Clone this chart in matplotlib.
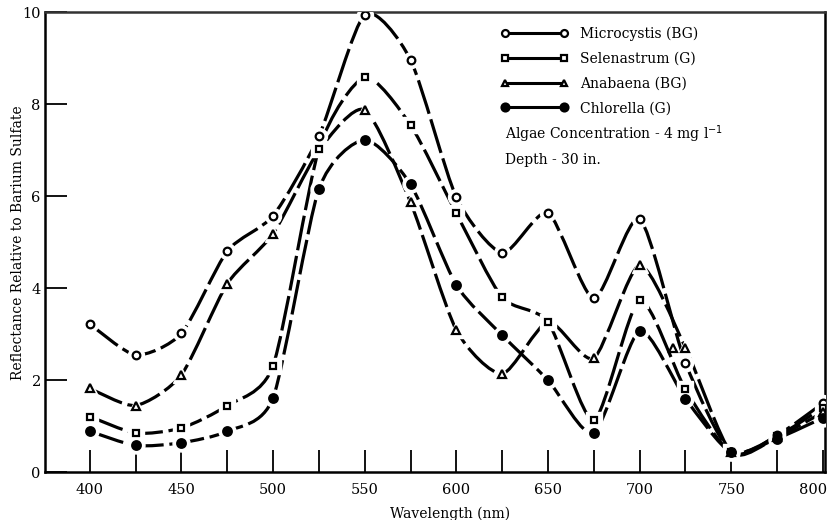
import matplotlib
matplotlib.use("Agg")
import matplotlib.pyplot as plt
import matplotlib.transforms as mtransforms
from matplotlib.path import Path
from matplotlib.patches import PathPatch
from matplotlib.lines import Line2D

plt.rcParams['font.family'] = ['DejaVu Serif']

wl = [400, 425, 450, 475, 500, 525, 550, 575, 600, 625, 650, 675, 700, 725, 750, 775, 800]

microcystis = [3.22, 2.55, 3.02, 4.81, 5.58, 7.31, 9.95, 8.97, 5.98, 4.77, 5.64, 3.78, 5.51, 2.38, 0.43, 0.80, 1.50]
selenastrum = [1.21, 0.85, 0.96, 1.45, 2.32, 7.03, 8.59, 7.55, 5.63, 3.80, 3.27, 1.13, 3.74, 1.80, 0.43, 0.78, 1.40]
anabaena = [1.82, 1.45, 2.12, 4.10, 5.19, 7.00, 7.88, 5.87, 3.09, 2.14, 3.27, 2.48, 4.50, 2.71, 0.43, 0.76, 1.30]
chlorella = [0.89, 0.58, 0.64, 0.89, 1.62, 6.16, 7.23, 6.26, 4.07, 2.98, 2.00, 0.85, 3.07, 1.60, 0.43, 0.73, 1.18]

# stray triangle drawn next to the 725 nm point
extra_tri_x = [718]
extra_tri_y = [2.71]

# points hidden under other markers in the original
hidden = {'Anabaena (BG)': [525, 650]}

series = [
    ('Microcystis (BG)', microcystis, 'o', 'white', 5.5),
    ('Selenastrum (G)', selenastrum, 's', 'white', 5),
    ('Anabaena (BG)', anabaena, '^', 'white', 5.5),
    ('Chlorella (G)', chlorella, 'o', 'black', 6.2),
]


def smooth_path(x, y, t=0.7):
    verts = [(x[0], y[0])]
    codes = [Path.MOVETO]
    n = len(x)
    for i in range(n - 1):
        x0, y0 = (x[i - 1], y[i - 1]) if i > 0 else (x[i], y[i])
        x3, y3 = (x[i + 2], y[i + 2]) if i + 2 < n else (x[i + 1], y[i + 1])
        c1 = (x[i] + (x[i + 1] - x0) / 6 * t, y[i] + (y[i + 1] - y0) / 6 * t)
        c2 = (x[i + 1] - (x3 - x[i]) / 6 * t, y[i + 1] - (y3 - y[i]) / 6 * t)
        verts += [c1, c2, (x[i + 1], y[i + 1])]
        codes += [Path.CURVE4] * 3
    return Path(verts, codes)


fig = plt.figure(figsize=(8.33, 5.2), dpi=100)
ax = fig.add_axes([0.054, 0.092, 0.936, 0.884])

for name, vals, mk, fc, ms in series:
    ax.add_patch(PathPatch(smooth_path(wl, vals), fill=False, lw=2.3, ec='black',
                           linestyle=(0, (11, 1.8)), zorder=2))
    skip = hidden.get(name, [])
    xs = [w for w, v in zip(wl, vals) if w not in skip]
    ys = [v for w, v in zip(wl, vals) if w not in skip]
    ax.plot(xs, ys, ls='none', marker=mk, ms=ms + 6, mfc='white', mec='white', zorder=3)
    ax.plot(xs, ys, ls='none', marker=mk, ms=ms, mfc=fc, mec='black', mew=1.6, zorder=4)

ax.plot(extra_tri_x, extra_tri_y, ls='none', marker='^', ms=5.5, mfc='white', mec='black', mew=1.6, zorder=4)

ax.set_xlim(375.5, 801)
ax.set_ylim(0, 10)
ax.set_xticks(range(400, 801, 50))
ax.set_xticks(range(425, 800, 50), minor=True)
ax.set_yticks(range(0, 11, 2))
ax.tick_params(axis='both', which='both', direction='in', length=16, width=1.3, labelsize=10.5)
ax.tick_params(axis='x', pad=8)
ax.tick_params(axis='y', pad=3)
for s in ax.spines.values():
    s.set_linewidth(1.8)
ax.spines['top'].set_color('#333333')

# the last x label sits a little left of its tick, as in the original
fig.canvas.draw()
last = ax.get_xticklabels()[-1]
last.set_transform(last.get_transform() + mtransforms.ScaledTranslation(-7 / 72, 0, fig.dpi_scale_trans))

ax.set_xlabel('Wavelength (nm)', fontsize=10)
ax.xaxis.set_label_coords(0.52, -0.075)
ax.set_ylabel('Reflectance Relative to Barium Sulfate', fontsize=10)
ax.yaxis.set_label_coords(-0.025, 0.5)

handles = []
for name, vals, mk, fc, ms in series:
    handles.append(Line2D([], [], color='black', lw=2.2, marker=mk, ms=ms - 0.5,
                          mfc=fc, mec='black', mew=1.6, label=name))
leg = ax.legend(handles=handles, loc='upper left', bbox_to_anchor=(0.578, 0.982),
                frameon=False, numpoints=2, handlelength=4.8, handletextpad=0.9,
                labelspacing=0.78, fontsize=10, borderaxespad=0)

ax.text(0.59, 0.735, 'Algae Concentration - 4 mg l$^{-1}$', transform=ax.transAxes,
        fontsize=10, va='center')
ax.text(0.59, 0.68, 'Depth - 30 in.', transform=ax.transAxes, fontsize=10, va='center')

fig.savefig('out.png', dpi=100)
